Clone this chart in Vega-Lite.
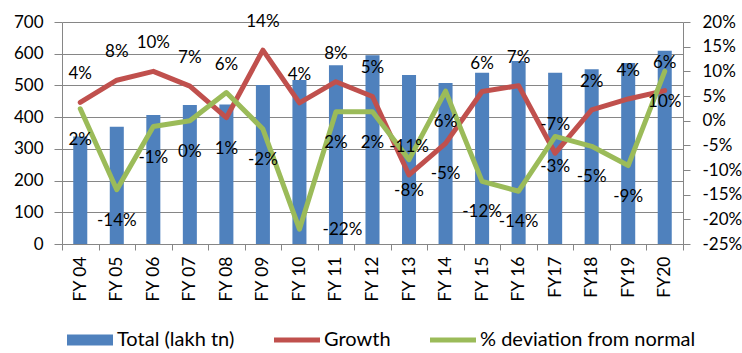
{
  "$schema": "https://vega.github.io/schema/vega-lite/v6.json",
  "width": 621,
  "height": 222,
  "autosize": {"type": "none"},
  "padding": {"left": 62, "top": 22, "right": 59, "bottom": 109},
  "config": {
    "locale": {"number": {"decimal": ".", "thousands": ",", "grouping": [3], "currency": ["$", ""], "minus": "-"}},
    "view": {"stroke": null},
    "font": "Lato",
    "text": {"font": "Lato", "fontSize": 17, "color": "#000000"},
    "axis": {"labelFont": "Lato", "labelColor": "#000000", "domainColor": "#868686", "tickColor": "#868686", "gridColor": "#868686", "title": null, "labelOverlap": false},
    "axisRight": {"labelOverlap": false, "labelBound": false, "labelFlush": false},
    "legend": {
      "title": null,
      "labelFont": "Lato",
      "labelFontSize": 20,
      "labelLimit": 400,
      "labelColor": "#000000"
    }
  },
  "data": {
    "values": [
      {"year": "FY 04", "total": 339, "growth": 0.037, "dev": 0.024},
      {"year": "FY 05", "total": 370, "growth": 0.082, "dev": -0.14},
      {"year": "FY 06", "total": 407, "growth": 0.10, "dev": -0.012},
      {"year": "FY 07", "total": 438, "growth": 0.07, "dev": 0.0},
      {"year": "FY 08", "total": 440, "growth": 0.006, "dev": 0.057},
      {"year": "FY 09", "total": 501, "growth": 0.143, "dev": -0.017},
      {"year": "FY 10", "total": 517, "growth": 0.036, "dev": -0.22},
      {"year": "FY 11", "total": 564, "growth": 0.079, "dev": 0.018},
      {"year": "FY 12", "total": 595, "growth": 0.049, "dev": 0.018},
      {"year": "FY 13", "total": 533, "growth": -0.11, "dev": -0.079},
      {"year": "FY 14", "total": 508, "growth": -0.046, "dev": 0.06},
      {"year": "FY 15", "total": 540, "growth": 0.059, "dev": -0.123},
      {"year": "FY 16", "total": 577, "growth": 0.071, "dev": -0.143},
      {"year": "FY17", "total": 540, "growth": -0.066, "dev": -0.032},
      {"year": "FY18", "total": 551, "growth": 0.022, "dev": -0.052},
      {"year": "FY19", "total": 571, "growth": 0.044, "dev": -0.091},
      {"year": "FY20", "total": 609, "growth": 0.061, "dev": 0.10}
    ]
  },
  "layer": [
    {
      "mark": {"type": "bar", "width": {"band": 0.384}},
      "encoding": {
        "x": {
          "field": "year", "type": "nominal", "sort": null,
          "scale": {"paddingInner": 0, "paddingOuter": 0},
          "axis": {"labelAngle": 270, "labelFontSize": 17.5, "tickBand": "extent", "tickSize": 6, "labelPadding": 6, "grid": false, "labelOverlap": false}
        },
        "y": {
          "field": "total", "type": "quantitative",
          "scale": {"domain": [0, 700], "nice": false},
          "axis": {"values": [0, 100, 200, 300, 400, 500, 600, 700], "grid": true, "tickSize": 8, "labelPadding": 11, "labelFontSize": 17}
        },
        "color": {
          "datum": "Total (lakh tn)",
          "scale": {"domain": ["Total (lakh tn)", "Growth", "% deviation from normal"], "range": ["#4F81BD", "#C0504D", "#9BBB59"]},
          "legend": {
            "orient": "none",
            "legendX": 5,
            "legendY": 295,
            "direction": "horizontal",
            "symbolType": "M-1,-0.11H1V0.11H-1Z",
            "symbolSize": 2116,
            "symbolStrokeWidth": 0,
            "labelOffset": 4,
            "columnPadding": 39,
            "encode": {
              "symbols": {
                "update": {
                  "shape": {"signal": "datum.value === 'Total (lakh tn)' ? 'M-1,-0.24H1V0.24H-1Z' : 'M-1,-0.11H1V0.11H-1Z'"},
                  "fill": {"scale": "color", "field": "value"},
                  "fillOpacity": {"value": 1},
                  "strokeWidth": {"value": 0}
                }
              }
            }
          }
        }
      }
    },
    {
      "layer": [
        {
          "mark": {"type": "line", "strokeWidth": 5, "strokeJoin": "round", "strokeCap": "round"},
          "encoding": {
            "x": {"field": "year", "type": "nominal", "sort": null},
            "y": {
              "field": "growth", "type": "quantitative",
              "scale": {"domain": [-0.25, 0.2], "nice": false, "zero": false},
              "axis": {"orient": "right", "format": ".0%", "tickCount": 9, "grid": false, "tickSize": 7, "labelPadding": 12, "labelFontSize": 17, "labelOverlap": false}
            },
            "color": {"datum": "Growth"}
          }
        },
        {
          "mark": {"type": "line", "strokeWidth": 5, "strokeJoin": "round", "strokeCap": "round"},
          "encoding": {
            "x": {"field": "year", "type": "nominal", "sort": null},
            "y": {"field": "dev", "type": "quantitative"},
            "color": {"datum": "% deviation from normal"}
          }
        },
        {
          "transform": [{"filter": "datum.year !== 'FY 08' && datum.year !== 'FY 14'"}],
          "mark": {"type": "text", "dy": -28, "baseline": "middle"},
          "encoding": {
            "x": {"field": "year", "type": "nominal", "sort": null},
            "y": {"field": "growth", "type": "quantitative"},
            "text": {"field": "growth", "type": "quantitative", "format": ".0%"}
          }
        },
        {
          "transform": [{"filter": "datum.year === 'FY 08' || datum.year === 'FY 14'"}],
          "mark": {"type": "text", "dy": 31, "baseline": "middle"},
          "encoding": {
            "x": {"field": "year", "type": "nominal", "sort": null},
            "y": {"field": "growth", "type": "quantitative"},
            "text": {"field": "growth", "type": "quantitative", "format": ".0%"}
          }
        },
        {
          "transform": [{"filter": "datum.year !== 'FY 08' && datum.year !== 'FY 10'"}],
          "mark": {"type": "text", "dy": 31, "baseline": "middle"},
          "encoding": {
            "x": {"field": "year", "type": "nominal", "sort": null},
            "y": {"field": "dev", "type": "quantitative"},
            "text": {"field": "dev", "type": "quantitative", "format": ".0%"}
          }
        },
        {
          "transform": [{"filter": "datum.year === 'FY 08'"}],
          "mark": {"type": "text", "dy": -28, "baseline": "middle"},
          "encoding": {
            "x": {"field": "year", "type": "nominal", "sort": null},
            "y": {"field": "dev", "type": "quantitative"},
            "text": {"field": "dev", "type": "quantitative", "format": ".0%"}
          }
        },
        {
          "transform": [{"filter": "datum.year === 'FY 10'"}],
          "mark": {"type": "text", "dx": 43, "dy": 1, "baseline": "middle"},
          "encoding": {
            "x": {"field": "year", "type": "nominal", "sort": null},
            "y": {"field": "dev", "type": "quantitative"},
            "text": {"field": "dev", "type": "quantitative", "format": ".0%"}
          }
        }
      ]
    }
  ],
  "resolve": {"scale": {"y": "independent"}}
}
